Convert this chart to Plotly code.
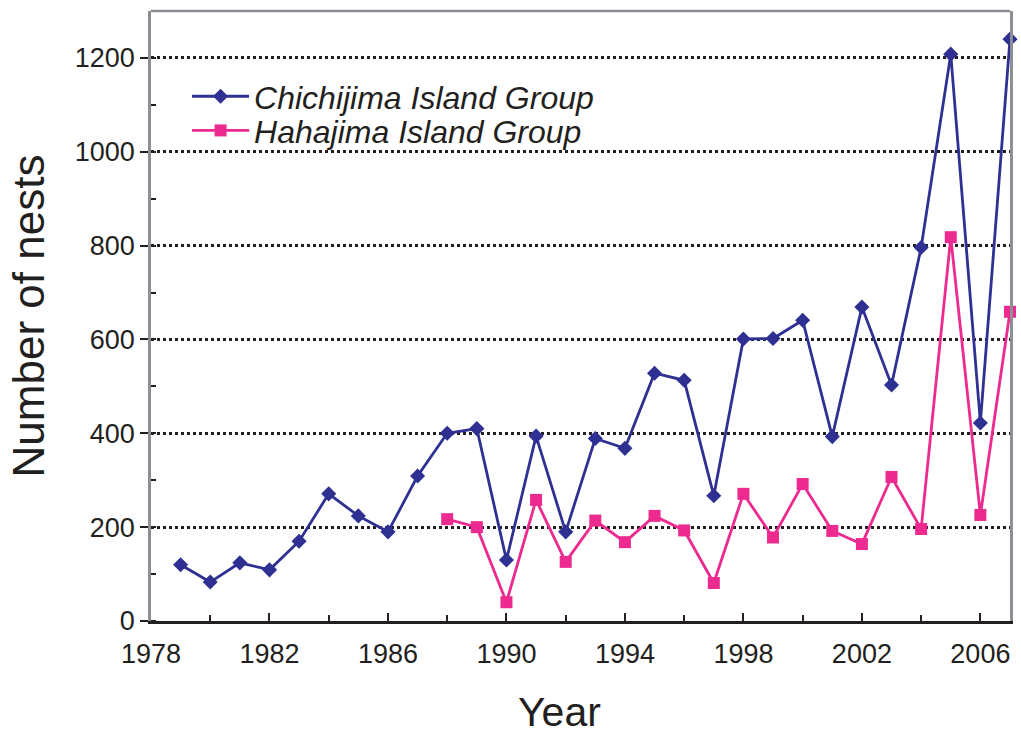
import plotly.graph_objects as go

# Annual nest counts for the two island groups
years_chichi = list(range(1979, 2008))
nests_chichi = [120, 83, 124, 109, 170, 271, 224, 190, 309, 400, 410, 130, 394, 190,
                389, 368, 528, 513, 267, 601, 602, 641, 393, 669, 503, 796, 1208, 422, 1240]

years_haha = list(range(1988, 2008))
nests_haha = [217, 200, 40, 258, 126, 214, 168, 224, 193, 81, 271, 178, 292, 192,
              164, 307, 196, 818, 226, 659]

x_tickvals = [1978, 1982, 1986, 1990, 1994, 1998, 2002, 2006]
y_tickvals = [0, 200, 400, 600, 800, 1000, 1200]

BLUE = "#2e3192"
PINK = "#ec2a90"
GRAY = "#8c9095"
INK = "#231f20"
SANS = "Liberation Sans, Arial, Helvetica, sans-serif"

fig = go.Figure()
fig.add_trace(go.Scatter(
    x=years_chichi, y=nests_chichi, mode="lines+markers",
    name="Chichijima Island Group", legend="legend",
    line=dict(color=BLUE, width=2.8),
    marker=dict(symbol="diamond", size=10, color=BLUE, line=dict(color=BLUE, width=1.5)),
    cliponaxis=False,
))
fig.add_trace(go.Scatter(
    x=years_haha, y=nests_haha, mode="lines+markers",
    name="Hahajima Island Group", legend="legend2",
    line=dict(color=PINK, width=2.8),
    marker=dict(symbol="square", size=12, color=PINK),
    cliponaxis=False,
))

legend_style = dict(
    xanchor="left", yanchor="top", bgcolor="rgba(0,0,0,0)",
    font=dict(family=SANS, size=32, color=INK, style="italic"),
    itemwidth=57,
)

fig.update_layout(
    width=1021, height=737,
    margin=dict(l=151, r=8, t=11, b=116),
    plot_bgcolor="white", paper_bgcolor="white",
    showlegend=True,
    legend=dict(x=0.042, y=0.905, **legend_style),
    legend2=dict(x=0.042, y=0.849, **legend_style),
    shapes=[dict(type="line", xref="paper", yref="paper", x0=0, x1=1, y0=1, y1=1,
                 line=dict(color=GRAY, width=2.5))],
    annotations=[dict(text="Year", xref="paper", yref="paper", x=0.4756, y=-0.108,
                      xanchor="center", yanchor="top", showarrow=False,
                      font=dict(family=SANS, size=41, color=INK))],
)

fig.update_xaxes(
    range=[1978, 2007],
    tickmode="array", tickvals=x_tickvals, ticktext=[str(v) for v in x_tickvals],
    ticks="inside", ticklen=8, tickwidth=2, tickcolor=INK,
    minor=dict(tickmode="linear", tick0=1978, dtick=2, ticks="inside",
               ticklen=6, tickwidth=2, tickcolor=INK, showgrid=False),
    showline=True, linecolor=INK, linewidth=2.5,
    showgrid=False, zeroline=False,
    tickfont=dict(family=SANS, size=27, color=INK),
    ticklabelstandoff=7,
)
fig.update_yaxes(
    range=[0, 1300],
    tickmode="array", tickvals=y_tickvals, ticktext=[str(v) for v in y_tickvals],
    ticks="outside", ticklen=8, tickwidth=2, tickcolor=INK,
    minor=dict(tickmode="linear", tick0=0, dtick=100, ticks="inside",
               ticklen=5, tickwidth=2, tickcolor=INK, showgrid=False),
    showline=True, linecolor=GRAY, linewidth=2.5, mirror=True,
    showgrid=True, gridcolor=INK, gridwidth=2.5, griddash="dot",
    zeroline=False,
    tickfont=dict(family=SANS, size=27, color=INK),
    title=dict(text="Number of nests", font=dict(family=SANS, size=44, color=INK), standoff=17),
)

fig.write_html("out.html")
